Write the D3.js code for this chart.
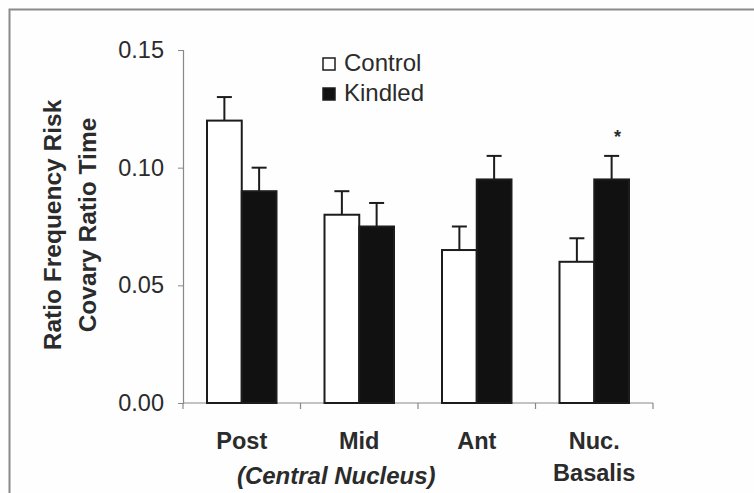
<!DOCTYPE html>
<html>
<head>
<meta charset="utf-8">
<script src="https://cdn.jsdelivr.net/npm/d3@7"></script>
<style>
  html, body { margin: 0; padding: 0; background: #fefefe; }
  svg { display: block; }
  text { font-family: Arial, "Liberation Sans", sans-serif; fill: #2b2b2b; }
</style>
</head>
<body>
<svg id="chart" width="754" height="493"></svg>
<script>
// Regions and groups
const categories = ["Post", "Mid", "Ant", "Nuc. Basalis"];
const groups = ["Control", "Kindled"];
// Mean ratio per region
const controlMeans = [0.120, 0.080, 0.065, 0.060];
const kindledMeans = [0.090, 0.075, 0.095, 0.095];
// Standard error (upper bar only)
const controlErr = [0.010, 0.010, 0.010, 0.010];
const kindledErr = [0.010, 0.010, 0.010, 0.010];
// Significance markers
const kindledSig = [false, false, false, true];
const yTicks = [0.00, 0.05, 0.10, 0.15];

const svg = d3.select("#chart");

// Outer frame (top and left edges visible)
svg.append("rect")
  .attr("x", 9.5).attr("y", 9.5)
  .attr("width", 800).attr("height", 600)
  .attr("fill", "none").attr("stroke", "#8a8a8a").attr("stroke-width", 2);

const x = d3.scaleBand().domain(categories).range([183, 653]).padding(0);
const xs = d3.scaleBand().domain(groups)
  .range([24, x.bandwidth() - 24]).padding(0);
const y = d3.scaleLinear().domain([0, 0.15]).range([403, 50]);

const series = groups.map((g, gi) => ({
  name: g,
  values: categories.map((c, i) => ({
    cat: c,
    mean: gi === 0 ? controlMeans[i] : kindledMeans[i],
    err: gi === 0 ? controlErr[i] : kindledErr[i],
    sig: gi === 1 ? kindledSig[i] : false
  }))
}));
const fills = { Control: "#ffffff", Kindled: "#111111" };

// Y axis
const yAxis = svg.append("g")
  .attr("transform", "translate(183,0)")
  .call(d3.axisLeft(y).tickValues(yTicks).tickFormat(d3.format(".2f")).tickSize(5).tickPadding(14));
yAxis.select(".domain").attr("stroke", "#888").attr("stroke-width", 1.2);
yAxis.selectAll(".tick line").attr("stroke", "#888");
yAxis.selectAll(".tick text")
  .style("font-size", "23.5px").attr("fill", "#2b2b2b");

// X axis with ticks at region boundaries
const xAxisG = svg.append("g").attr("transform", "translate(0,403)");
xAxisG.append("line")
  .attr("x1", 183).attr("x2", 653).attr("y1", 0).attr("y2", 0)
  .attr("stroke", "#888").attr("stroke-width", 1.2);
const bounds = categories.map(c => x(c)).concat([x(categories[categories.length - 1]) + x.bandwidth()]);
xAxisG.selectAll("line.tk").data(bounds).enter().append("line")
  .attr("class", "tk")
  .attr("x1", d => d).attr("x2", d => d).attr("y1", 0).attr("y2", 6)
  .attr("stroke", "#888").attr("stroke-width", 1.2);

// Bars
const gGroups = svg.append("g").selectAll("g").data(series).enter().append("g");
gGroups.selectAll("rect").data(d => d.values.map(v => Object.assign({ name: d.name }, v)))
  .enter().append("rect")
  .attr("x", d => x(d.cat) + xs(d.name))
  .attr("y", d => y(d.mean))
  .attr("width", xs.bandwidth())
  .attr("height", d => y(0) - y(d.mean))
  .attr("fill", d => fills[d.name])
  .attr("stroke", "#1c1c1c").attr("stroke-width", 2);

// Error bars
const allVals = series.flatMap(s => s.values.map(v => Object.assign({ name: s.name }, v)));
const cx = d => x(d.cat) + xs(d.name) + xs.bandwidth() / 2;
svg.append("g").selectAll("line.eb").data(allVals).enter().append("line")
  .attr("x1", cx).attr("x2", cx)
  .attr("y1", d => y(d.mean)).attr("y2", d => y(d.mean + d.err))
  .attr("stroke", "#1c1c1c").attr("stroke-width", 2);
svg.append("g").selectAll("line.cap").data(allVals).enter().append("line")
  .attr("x1", d => cx(d) - 7.5).attr("x2", d => cx(d) + 7.5)
  .attr("y1", d => y(d.mean + d.err)).attr("y2", d => y(d.mean + d.err))
  .attr("stroke", "#1c1c1c").attr("stroke-width", 2);

// Significance asterisk
svg.append("g").selectAll("text").data(allVals.filter(d => d.sig)).enter().append("text")
  .attr("x", d => cx(d) + 6)
  .attr("y", d => y(d.mean + d.err) - 13)
  .attr("text-anchor", "middle")
  .style("font-size", "18px").style("font-weight", "bold")
  .text("*");

// Category labels
svg.append("g").selectAll("text").data(categories).enter().append("text")
  .attr("x", d => x(d) + x.bandwidth() / 2)
  .attr("y", 449)
  .attr("text-anchor", "middle")
  .style("font-size", "23.5px").style("font-weight", "bold")
  .each(function (d) {
    const parts = d.split(" ");
    const t = d3.select(this);
    parts.forEach((p, i) => {
      t.append("tspan")
        .attr("x", x(d) + x.bandwidth() / 2)
        .attr("dy", i === 0 ? 0 : 32)
        .text(p);
    });
  });

// Grouping label under the central nucleus regions
svg.append("text")
  .attr("x", x("Mid") + x.bandwidth() / 2 - 23)
  .attr("y", 484)
  .attr("text-anchor", "middle")
  .style("font-size", "24px").style("font-weight", "bold").style("font-style", "italic")
  .text("(Central Nucleus)");

// Y axis title (two lines)
const yTitle = svg.append("text")
  .attr("transform", "translate(0,225) rotate(-90)")
  .attr("text-anchor", "middle")
  .style("font-size", "24.5px").style("font-weight", "bold");
yTitle.append("tspan").attr("x", 0).attr("y", 61).text("Ratio Frequency Risk");
yTitle.append("tspan").attr("x", 0).attr("y", 96).text("Covary Ratio Time");

// Legend
const legend = svg.append("g");
groups.forEach((g, i) => {
  const ly = 58 + i * 30;
  legend.append("rect")
    .attr("x", 323).attr("y", ly).attr("width", 12).attr("height", 12)
    .attr("fill", fills[g]).attr("stroke", "#1c1c1c").attr("stroke-width", 1.5);
  legend.append("text")
    .attr("x", 344).attr("y", ly + 13)
    .style("font-size", "24px")
    .text(g);
});
</script>
</body>
</html>
